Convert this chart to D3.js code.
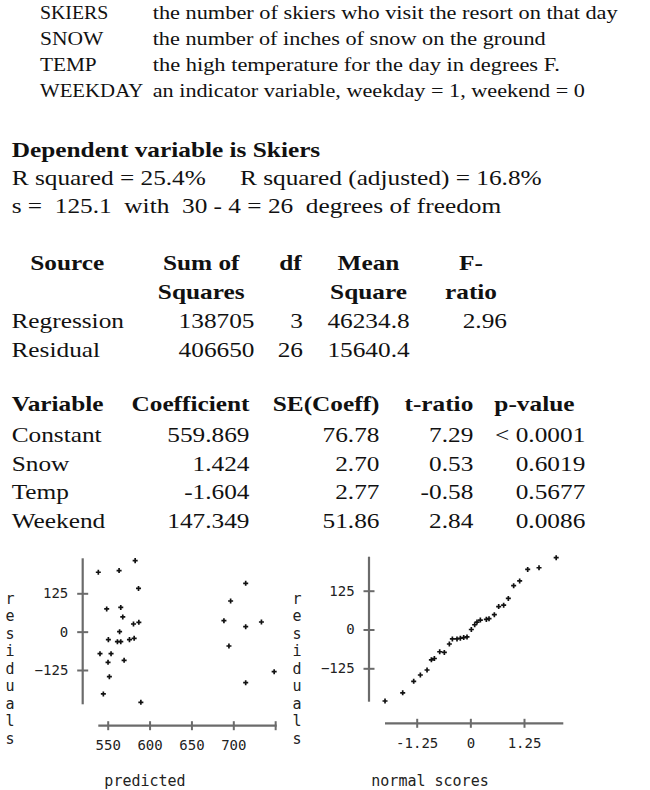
<!DOCTYPE html>
<html>
<head>
<meta charset="utf-8">
<script src="https://cdn.jsdelivr.net/npm/d3@7/dist/d3.min.js"></script>
<style>
  html, body { margin: 0; padding: 0; background: #fff; }
  svg { display: block; }
  text { white-space: pre; }
</style>
</head>
<body>
<svg id="chart" width="650" height="790"></svg>
<script>
// ---------------- DATA ----------------
const defTerms = ["SKIERS", "SNOW", "TEMP", "WEEKDAY"];
const defDescs = [
  "the number of skiers who visit the resort on that day",
  "the number of inches of snow on the ground",
  "the high temperature for the day in degrees F.",
  "an indicator variable, weekday = 1, weekend = 0"
];
const summaryTitle = "Dependent variable is Skiers";
const summaryR2 = ["R squared = 25.4%", "R squared (adjusted) = 16.8%"];
const summaryS = "s =  125.1  with  30 - 4 = 26  degrees of freedom";

const anovaHeaders = [["Source", ""], ["Sum of", "Squares"], ["df", ""], ["Mean", "Square"], ["F-", "ratio"]];
const anovaSources = ["Regression", "Residual"];
const anovaSS = ["138705", "406650"];
const anovaDF = ["3", "26"];
const anovaMS = ["46234.8", "15640.4"];
const anovaF = ["2.96", ""];

const coefHeaders = ["Variable", "Coefficient", "SE(Coeff)", "t-ratio", "p-value"];
const coefVars = ["Constant", "Snow", "Temp", "Weekend"];
const coefValues = ["559.869", "1.424", "-1.604", "147.349"];
const coefSE = ["76.78", "2.70", "2.77", "51.86"];
const coefT = ["7.29", "0.53", "-0.58", "2.84"];
const coefP = ["< 0.0001", "0.6019", "0.5677", "0.0086"];

// residuals vs predicted
const predicted = [538.8, 563.6, 582.8, 586.8, 548.8, 565.6, 568.0, 580.8, 587.2, 564.2,
                   550.8, 561.6, 565.6, 576.0, 581.6, 540.8, 554.0, 550.4, 569.6, 552.0,
                   544.8, 589.6, 714.8, 696.8, 688.8, 714.8, 733.6, 694.8, 714.8, 748.8];
const residuals = [193.5, 199.0, 231.5, 141.0, 74.0, 79.0, 48.0, 25.0, 30.4, 0.0,
                   -26.0, -32.6, -32.6, -26.0, -21.7, -71.7, -71.7, -100.0, -93.5, -146.7,
                   -203.0, -230.4, 157.6, 100.0, 35.9, 16.3, 31.5, -46.7, -166.3, -130.4];

// normal probability plot
const normalScores = [-1.988, -1.576, -1.32, -1.165, -1.009, -0.908, -0.838, -0.714, -0.606, -0.489,
                      -0.419, -0.311, -0.233, -0.155, -0.078, 0.023, 0.101, 0.155, 0.233, 0.373,
                      0.435, 0.559, 0.66, 0.776, 0.885, 1.009, 1.149, 1.336, 1.6, 2.0];
const sortedResiduals = [-230.4, -204.0, -167.0, -146.7, -130.4, -97.8, -93.5, -71.7, -73.9, -46.7,
                         -30.4, -30.4, -28.3, -26.0, -24.0, 0.0, 15.2, 23.9, 30.4, 32.6,
                         34.8, 47.8, 73.9, 78.3, 100.0, 141.3, 156.5, 193.5, 198.9, 231.5];

const residTicks = [-125, 0, 125];
const predTicks = [550, 600, 650, 700, 750];
const predTickLabels = ["550", "600", "650", "700", ""];
const normTicks = [-1.25, 0, 1.25];
const normTickLabels = ["-1.25", "0", "1.25"];
const yAxisLetters = "residuals".split("");
const xTitles = ["predicted", "normal scores"];

// ---------------- DRAWING ----------------
const svg = d3.select("#chart");
const SERIF = "'Liberation Serif', 'Times New Roman', serif";
const MONO = "'DejaVu Sans Mono', monospace";
const SX = 1.15;

function txt(g, str, x, y, o = {}) {
  const t = g.append("text")
    .attr("x", x).attr("y", y)
    .style("font-family", o.family || SERIF)
    .style("font-size", (o.size || 22) + "px")
    .style("font-weight", o.weight || "normal")
    .attr("fill", o.fill || "#111")
    .text(str);
  if (!str) return t;
  const nat = t.node().getComputedTextLength();
  const w = o.width != null ? o.width : nat * (o.sx != null ? o.sx : SX);
  t.attr("textLength", w).attr("lengthAdjust", "spacingAndGlyphs");
  const a = o.anchor || "start";
  if (a === "end") t.attr("x", x - w);
  else if (a === "middle") t.attr("x", x - w / 2);
  return t;
}

// --- definitions block
const defBase = [18.5, 44.8, 71.1, 97.4];
const defTermW = [68.3, 63.3, 56.7, 103.3];
const defDescW = [465, 393, 407.3, 432.3];
const gDef = svg.append("g");
defTerms.forEach((d, i) => {
  txt(gDef, d, 40, defBase[i], { size: 18, width: defTermW[i] });
  txt(gDef, defDescs[i], 152.7, defBase[i], { size: 18, width: defDescW[i] });
});

// --- summary block
const gSum = svg.append("g");
txt(gSum, summaryTitle, 11.7, 156.7, { weight: "bold" });
txt(gSum, summaryR2[0], 11.7, 185);
txt(gSum, summaryR2[1], 240, 185);
txt(gSum, summaryS, 11.7, 213.3);

// --- ANOVA table
const gAnova = svg.append("g");
const anovaHeadCenters = [67.3, 201.2, 290.4, 368.5, 471];
const anovaHeadBase = [270, 299.3];
anovaHeaders.forEach((h, i) => {
  h.forEach((s, j) => { if (s) txt(gAnova, s, anovaHeadCenters[i], anovaHeadBase[j], { weight: "bold", anchor: "middle" }); });
});
const anovaRowBase = [328.2, 356.9];
const anovaRight = [254.5, 303, 409.6, 507];
anovaSources.forEach((s, i) => {
  const y = anovaRowBase[i];
  txt(gAnova, s, 11.5, y);
  [anovaSS, anovaDF, anovaMS, anovaF].forEach((col, c) => {
    txt(gAnova, col[i], anovaRight[c], y, { anchor: "end" });
  });
});

// --- coefficients table
const gCoef = svg.append("g");
const coefHeadRight = [null, 249.5, 379.5, 473.3, 574.5];
const coefValRight = [249.5, 379.5, 473.3, 585.3];
coefHeaders.forEach((h, i) => {
  if (i === 0) txt(gCoef, h, 11.7, 411, { weight: "bold" });
  else txt(gCoef, h, coefHeadRight[i], 411, { weight: "bold", anchor: "end" });
});
const coefRowBase = [441.7, 470.5, 499.1, 527.8];
coefVars.forEach((v, i) => {
  const y = coefRowBase[i];
  txt(gCoef, v, 11.7, y);
  [coefValues, coefSE, coefT, coefP].forEach((col, c) => {
    txt(gCoef, col[i], coefValRight[c], y, { anchor: "end" });
  });
});

// --- scatter plots
const AXIS_COLOR = "#6b6b6b";
const symbol = d3.symbol().type(d3.symbolCross).size(14);

function plot(cfg) {
  const g = svg.append("g");
  const x = d3.scaleLinear().domain(cfg.xDomain).range(cfg.xRange);
  const y = d3.scaleLinear().domain([-125, 125]).range(cfg.yRange);

  // y axis
  const ya = g.append("g").attr("transform", `translate(${cfg.yAxisX},0)`)
    .call(d3.axisLeft(y).tickValues(residTicks).tickSize(0).tickPadding(14.4).tickFormat(d3.format("d")));
  ya.select(".domain").remove();
  ya.selectAll(".tick line").attr("x1", -5.5).attr("x2", 5.5)
    .attr("stroke", AXIS_COLOR).attr("stroke-width", 2);
  ya.selectAll(".tick text").style("font-family", MONO).style("font-size", "14px").attr("fill", "#222");
  g.append("line").attr("x1", cfg.yAxisX).attr("x2", cfg.yAxisX)
    .attr("y1", cfg.yLine[0]).attr("y2", cfg.yLine[1])
    .attr("stroke", AXIS_COLOR).attr("stroke-width", 2.2);

  // x axis
  const xa = g.append("g").attr("transform", `translate(0,${cfg.xAxisY})`)
    .call(d3.axisBottom(x).tickValues(cfg.xTicks).tickSize(0).tickPadding(cfg.xPad)
      .tickFormat((d, i) => cfg.xTickLabels[i]));
  xa.select(".domain").remove();
  xa.selectAll(".tick line").attr("y1", -4.5).attr("y2", 4.5)
    .attr("stroke", AXIS_COLOR).attr("stroke-width", 2);
  xa.selectAll(".tick text").style("font-family", MONO).style("font-size", "14px").attr("fill", "#222");
  g.append("line").attr("y1", cfg.xAxisY).attr("y2", cfg.xAxisY)
    .attr("x1", cfg.xLine[0]).attr("x2", cfg.xLine[1])
    .attr("stroke", AXIS_COLOR).attr("stroke-width", 2.2);

  // points
  g.selectAll("path.pt").data(cfg.xs).join("path")
    .attr("class", "pt")
    .attr("d", symbol)
    .attr("transform", (d, i) => `translate(${x(d)},${y(cfg.ys[i])})`)
    .attr("fill", "#111");

  // vertical residuals label
  yAxisLetters.forEach((ch, i) => {
    g.append("text").attr("x", cfg.labelX).attr("y", 598.3 + i * 17.5)
      .attr("dy", "0.35em").attr("text-anchor", "middle")
      .style("font-family", MONO).style("font-size", "15px").attr("fill", "#222")
      .text(ch);
  });
  // x title
  g.append("text").attr("x", cfg.titleX).attr("y", 786)
    .attr("text-anchor", "middle")
    .style("font-family", MONO).style("font-size", "15px").attr("fill", "#222")
    .text(cfg.title);
}

plot({
  xDomain: [550, 700], xRange: [107.7, 233.3],
  yRange: [670, 593.3],
  yAxisX: 82.7, yLine: [558.3, 704.3],
  xAxisY: 725.7, xLine: [98.3, 276.7], xPad: 14,
  xTicks: predTicks, xTickLabels: predTickLabels,
  xs: predicted, ys: residuals,
  labelX: 10, title: xTitles[0], titleX: 145
});
plot({
  xDomain: [-1.25, 1.25], xRange: [416.7, 524],
  yRange: [668.3, 590.7],
  yAxisX: 369, yLine: [556.7, 701.7],
  xAxisY: 723.3, xLine: [385, 563.3], xPad: 15,
  xTicks: normTicks, xTickLabels: normTickLabels,
  xs: normalScores, ys: sortedResiduals,
  labelX: 297, title: xTitles[1], titleX: 430
});
</script>
</body>
</html>
